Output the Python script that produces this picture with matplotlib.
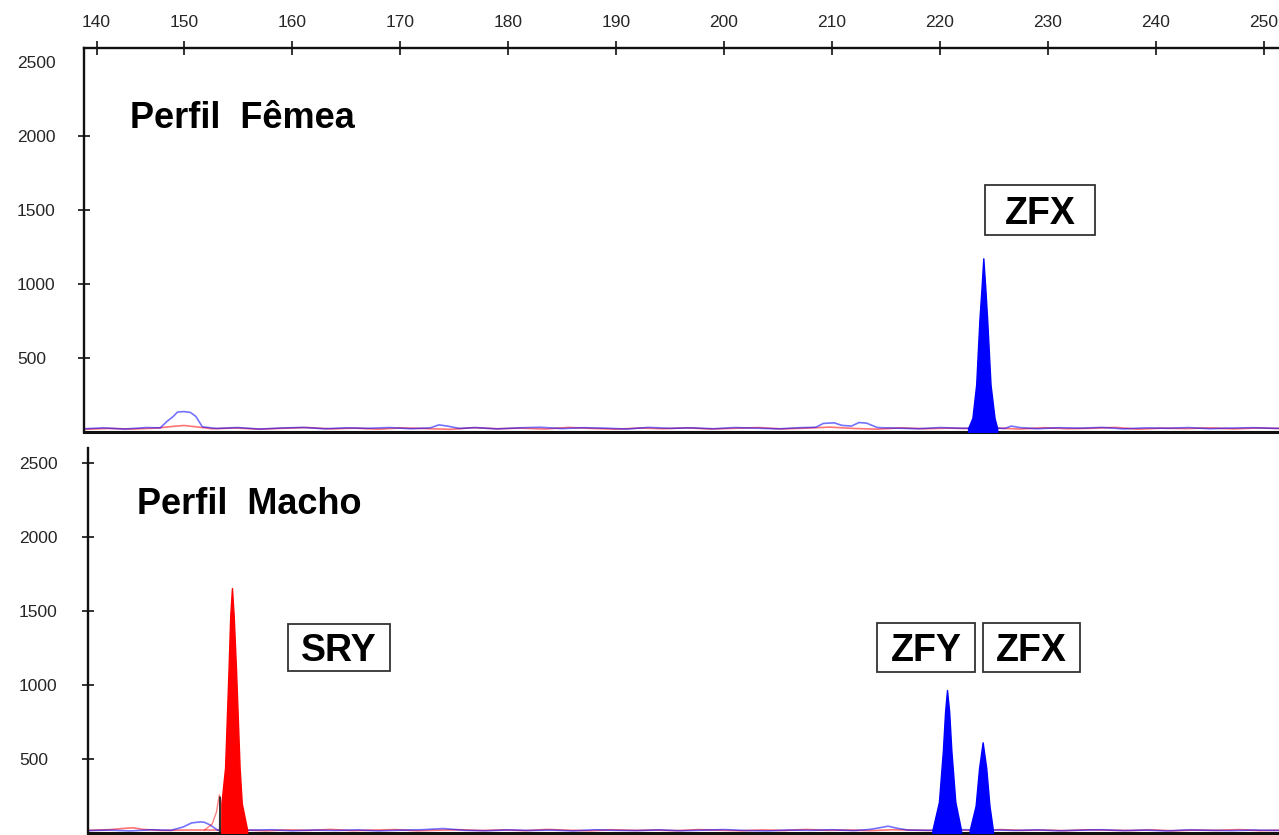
import matplotlib.pyplot as plt
from matplotlib.patches import Rectangle

plt.rcParams['font.family'] = ['Liberation Sans', 'DejaVu Sans']

# size ruler (bp) as printed on top of the electropherogram
size_ticks = [141.9, 150, 160, 170, 180, 190, 200, 210, 220, 230, 240, 250]
size_labels = ['140', '150', '160', '170', '180', '190', '200', '210', '220', '230', '240', '250']
rfu_ticks = [500, 1000, 1500, 2000, 2500]
rfu_labels = ['500', '1000', '1500', '2000', '2500']

# ---- female profile (top panel) ----
fem_blue_bp = [
    140.8, 142.5, 144.5, 146.5, 147.8, 148.4, 149.0, 149.4, 150.0, 150.6,
    151.1, 151.7, 153.0, 155.0, 157.0, 159.0, 161.0, 163.0, 165.0, 167.0,
    169.0, 171.0, 172.8, 173.6, 174.4, 175.5, 177.0, 179.0, 181.0, 183.0,
    185.0, 187.0, 189.0, 191.0, 193.0, 195.0, 197.0, 199.0, 201.0, 203.0,
    205.0, 207.0, 208.5, 209.2, 210.2, 210.9, 211.8, 212.5, 213.2, 214.2,
    216.0, 218.0, 220.0, 222.0, 224.0, 226.0, 226.6, 227.4, 229.0, 231.0,
    233.0, 235.0, 237.0, 239.0, 241.0, 243.0, 245.0, 247.0, 249.0, 251.4]
fem_blue_rfu = [
    22, 28, 20, 30, 28, 70, 105, 135, 138, 132,
    105, 35, 24, 30, 20, 27, 31, 22, 28, 25,
    30, 22, 28, 48, 40, 24, 30, 21, 28, 32,
    23, 29, 26, 20, 31, 25, 28, 22, 30, 26,
    21, 29, 32, 58, 62, 45, 40, 64, 60, 30,
    26, 22, 30, 25, 28, 24, 40, 30, 22, 29,
    26, 31, 21, 28, 25, 30, 22, 27, 29, 24]
fem_red_bp = [
    140.8, 143.0, 145.2, 147.4, 149.0, 150.0, 151.0, 152.6, 154.8, 157.0,
    159.2, 161.4, 163.6, 165.8, 168.0, 170.2, 172.4, 174.6, 176.8, 179.0,
    181.2, 183.4, 185.6, 187.8, 190.0, 192.2, 194.4, 196.6, 198.8, 201.0,
    203.2, 205.4, 207.6, 209.8, 212.0, 214.2, 216.4, 218.6, 220.8, 223.0,
    225.2, 227.4, 229.6, 231.8, 234.0, 236.2, 238.4, 240.6, 242.8, 245.0,
    247.2, 249.4, 251.4]
fem_red_rfu = [
    18, 24, 20, 26, 38, 44, 36, 22, 27, 19,
    25, 30, 21, 26, 19, 28, 23, 18, 29, 22,
    26, 20, 31, 24, 19, 27, 22, 28, 20, 25,
    30, 21, 26, 33, 24, 19, 28, 22, 26, 23,
    27, 20, 29, 22, 25, 31, 19, 26, 23, 28,
    21, 27, 24]
fem_zfx_bp = [222.6, 223.0, 223.35, 223.65, 223.85, 224.01, 224.19, 224.37, 224.68, 225.05, 225.3]
fem_zfx_rfu = [25, 95, 320, 760, 980, 1174, 980, 760, 320, 95, 25]

# ---- male profile (bottom panel) ----
male_blue_bp = [
    141.1, 143.0, 145.0, 147.0, 148.8, 149.9, 150.7, 151.5, 151.9, 152.4,
    153.1, 154.0, 156.0, 158.0, 160.0, 162.0, 164.0, 166.0, 168.0, 170.0,
    172.0, 174.0, 176.0, 178.0, 180.0, 182.0, 184.0, 186.0, 188.0, 190.0,
    192.0, 194.0, 196.0, 198.0, 200.0, 202.0, 204.0, 206.0, 208.0, 210.0,
    212.0, 213.5, 214.6, 215.2, 215.9, 217.0, 219.0, 222.0, 225.5, 227.0,
    229.0, 231.0, 233.0, 235.0, 237.0, 239.0, 241.0, 243.0, 245.0, 247.0,
    249.0, 251.4]
male_blue_rfu = [
    16, 20, 14, 22, 18, 40, 68, 75, 72, 55,
    20, 14, 19, 22, 15, 20, 17, 21, 14, 19,
    22, 30, 18, 15, 21, 17, 20, 14, 22, 18,
    16, 21, 15, 19, 23, 17, 14, 20, 18, 22,
    16, 24, 38, 46, 34, 20, 18, 22, 20, 17,
    21, 15, 19, 22, 16, 20, 14, 21, 18, 16,
    20, 17]
male_red_bp = [
    141.1, 143.0, 144.6, 145.3, 146.2, 148.0, 150.0, 151.9, 155.8, 157.6,
    159.6, 161.6, 163.6, 165.6, 167.6, 169.6, 171.6, 173.6, 175.6, 177.6,
    179.6, 181.6, 183.6, 185.6, 187.6, 189.6, 191.6, 193.6, 195.6, 197.6,
    199.6, 201.6, 203.6, 205.6, 207.6, 209.6, 211.6, 213.6, 215.6, 217.6,
    219.6, 221.6, 223.6, 225.6, 227.6, 229.6, 231.6, 233.6, 235.6, 237.6,
    239.6, 241.6, 243.6, 245.6, 247.6, 249.6, 251.4]
male_red_rfu = [
    18, 22, 32, 35, 24, 17, 20, 20, 20, 15,
    21, 18, 24, 16, 20, 23, 15, 19, 22, 17,
    21, 16, 24, 19, 15, 22, 18, 20, 16, 23,
    19, 15, 21, 17, 24, 18, 20, 16, 22, 19,
    17, 21, 15, 23, 18, 20, 16, 22, 19, 17,
    21, 15, 20, 18, 23, 16, 19]
male_shoulder_bp = [151.9, 152.6, 153.0, 153.27, 153.4]
male_shoulder_rfu = [20, 60, 140, 257, 215]
male_black_bp = [153.3, 153.33, 153.36]
male_black_rfu = [0, 243, 0]
male_sry_bp = [153.45, 153.46, 153.8, 154.12, 154.28, 154.44, 154.6, 154.82, 155.15, 155.35, 155.85]
male_sry_rfu = [0, 200, 440, 1100, 1470, 1655, 1470, 1100, 440, 200, 20]
male_zfy_bp = [219.3, 219.9, 220.27, 220.47, 220.65, 220.85, 221.05, 221.42, 221.95]
male_zfy_rfu = [20, 210, 560, 820, 966, 820, 560, 210, 20]
male_zfx_bp = [222.75, 223.3, 223.62, 223.95, 224.28, 224.58, 224.9]
male_zfx_rfu = [20, 185, 440, 613, 440, 185, 20]

BLUE = '#0000ff'
RED = '#ff0000'
TXT = '#262626'

fig = plt.figure(figsize=(12.79, 8.35), dpi=100)
ax1 = fig.add_axes([84 / 1279, 403 / 835, 1195 / 1279, 384 / 835])
ax2 = fig.add_axes([88 / 1279, 2 / 835, 1191 / 1279, 385 / 835])


def label_box(ax, x0, x1, y0, y1, text):
    ax.add_patch(Rectangle((x0, y0), x1 - x0, y1 - y0, facecolor='white',
                           edgecolor='#333333', lw=1.3, zorder=5))
    ax.text((x0 + x1) / 2, (y0 + y1) / 2, text, ha='center', va='center_baseline',
            fontsize=27, fontweight='bold', color='black', zorder=6)


def peak(ax, bp, rfu, color):
    ax.fill_between(bp, 0, rfu, facecolor=color, edgecolor=color, lw=1.0, zorder=3)


# top panel: female
ax1.plot(fem_red_bp, fem_red_rfu, color=RED, lw=1.2, alpha=0.55)
ax1.plot(fem_blue_bp, fem_blue_rfu, color=BLUE, lw=1.2, alpha=0.55)
peak(ax1, fem_zfx_bp, fem_zfx_rfu, BLUE)
ax1.set_xlim(140.74, 251.39)
ax1.set_ylim(0, 2595)
ax1.text(0.0385, 0.817, 'Perfil  Fêmea', transform=ax1.transAxes,
         fontsize=26, fontweight='bold', va='center')
label_box(ax1, 224.17, 234.35, 1331, 1669, 'ZFX')

# bottom panel: male
ax2.plot(male_red_bp, male_red_rfu, color=RED, lw=1.2, alpha=0.55)
ax2.plot(male_blue_bp, male_blue_rfu, color=BLUE, lw=1.2, alpha=0.55)
ax2.plot(male_shoulder_bp, male_shoulder_rfu, color=RED, lw=1.0, alpha=0.5)
ax2.plot(male_black_bp, male_black_rfu, color='#333333', lw=1.2)
peak(ax2, male_sry_bp, male_sry_rfu, RED)
peak(ax2, male_zfy_bp, male_zfy_rfu, BLUE)
peak(ax2, male_zfx_bp, male_zfx_rfu, BLUE)
ax2.set_xlim(141.11, 251.39)
ax2.set_ylim(0, 2601)
ax2.text(0.0411, 0.852, 'Perfil  Macho', transform=ax2.transAxes,
         fontsize=26, fontweight='bold', va='center')
label_box(ax2, 159.6, 169.1, 1095, 1412, 'SRY')
label_box(ax2, 214.2, 223.2, 1088, 1419, 'ZFY')
label_box(ax2, 224.0, 233.0, 1088, 1419, 'ZFX')

# axes styling
ax1.xaxis.tick_top()
ax1.set_xticks(size_ticks)
ax1.set_xticklabels(size_labels)
ax1.tick_params(axis='x', direction='inout', length=10, width=1.2, pad=8,
                labelsize=12.5, labelcolor=TXT, color='#111111')
ax2.set_xticks([])

for ax, pad in ((ax1, 43.7), (ax2, 45.2)):
    ax.set_yticks(rfu_ticks)
    ax.set_yticklabels(rfu_labels)
    ax.tick_params(axis='y', direction='inout', length=9, width=1.2, pad=pad,
                   labelsize=12.5, labelcolor=TXT, color='#111111')
    for t in ax.get_yticklabels():
        t.set_horizontalalignment('left')
    ax.spines['right'].set_visible(False)
    ax.spines['left'].set_linewidth(1.7)
    ax.spines['bottom'].set_linewidth(2.2)
    for s in ax.spines.values():
        s.set_color('#111111')

ax1.spines['top'].set_linewidth(1.7)
ax2.spines['top'].set_visible(False)
ax1.yaxis.get_major_ticks()[-1].tick1line.set_visible(False)

fig.savefig('out.png', dpi=100)
